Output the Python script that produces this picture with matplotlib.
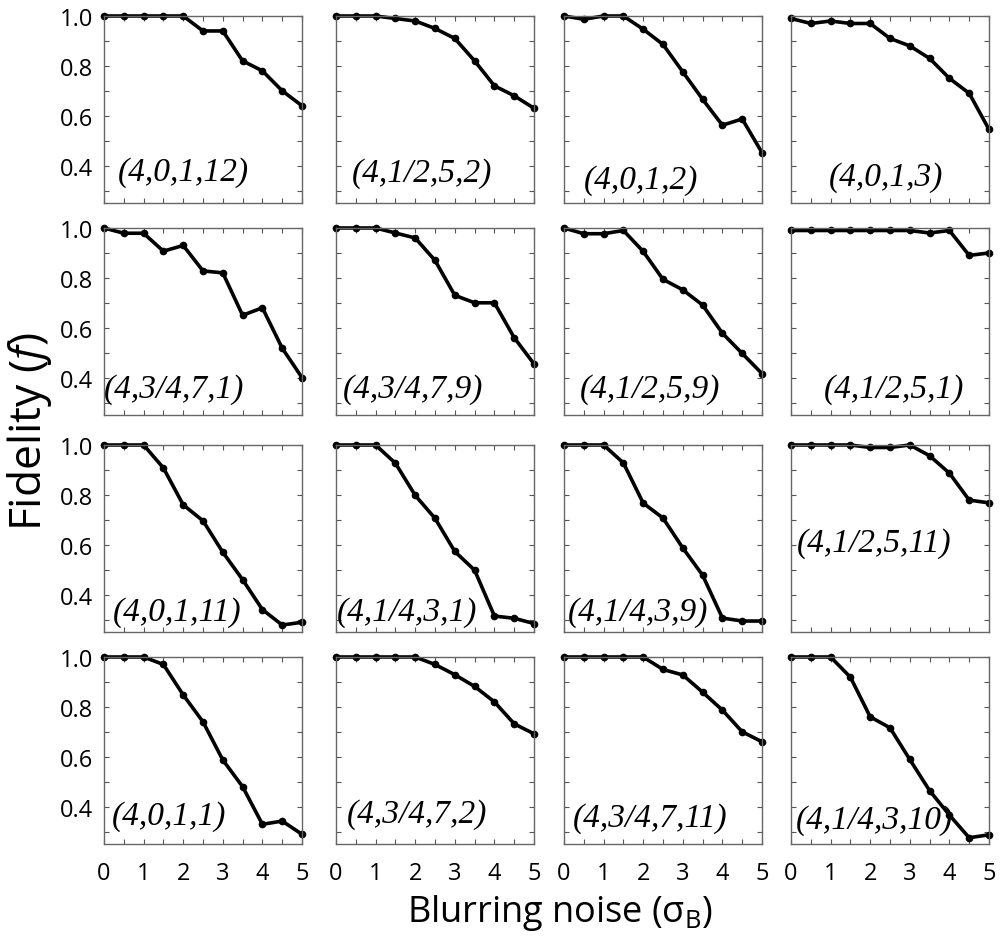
import matplotlib
matplotlib.use('Agg')
from matplotlib import pyplot as plt
from matplotlib.ticker import MultipleLocator

# Blurring noise levels (sigma_B) and fidelity per parameter set.
sigma_b = [0, 0.5, 1, 1.5, 2, 2.5, 3, 3.5, 4, 4.5, 5]

labels = ['(4,0,1,12)', '(4,1/2,5,2)', '(4,0,1,2)', '(4,0,1,3)',
          '(4,3/4,7,1)', '(4,3/4,7,9)', '(4,1/2,5,9)', '(4,1/2,5,1)',
          '(4,0,1,11)', '(4,1/4,3,1)', '(4,1/4,3,9)', '(4,1/2,5,11)',
          '(4,0,1,1)', '(4,3/4,7,2)', '(4,3/4,7,11)', '(4,1/4,3,10)']

f_4_0_1_12 = [1.0, 1.0, 1.0, 1.0, 1.0, 0.94, 0.94, 0.82, 0.78, 0.70, 0.64]
f_4_12_5_2 = [1.0, 1.0, 1.0, 0.99, 0.98, 0.95, 0.91, 0.82, 0.72, 0.68, 0.63]
f_4_0_1_2 = [1.0, 0.987, 1.0, 1.0, 0.947, 0.886, 0.776, 0.666, 0.562, 0.587, 0.452]
f_4_0_1_3 = [0.99, 0.97, 0.98, 0.97, 0.97, 0.91, 0.88, 0.83, 0.75, 0.69, 0.545]
f_4_34_7_1 = [1.0, 0.979, 0.979, 0.907, 0.93, 0.828, 0.82, 0.65, 0.68, 0.518, 0.40]
f_4_34_7_9 = [1.0, 1.0, 1.0, 0.98, 0.96, 0.87, 0.73, 0.70, 0.70, 0.56, 0.455]
f_4_12_5_9 = [1.0, 0.977, 0.977, 0.99, 0.906, 0.794, 0.752, 0.691, 0.578, 0.497, 0.416]
f_4_12_5_1 = [0.99, 0.99, 0.99, 0.99, 0.99, 0.99, 0.99, 0.98, 0.99, 0.89, 0.90]
f_4_0_1_11 = [1.0, 1.0, 1.0, 0.908, 0.76, 0.696, 0.57, 0.46, 0.34, 0.278, 0.289]
f_4_14_3_1 = [1.0, 1.0, 1.0, 0.927, 0.798, 0.706, 0.573, 0.498, 0.314, 0.305, 0.284]
f_4_14_3_9 = [1.0, 1.0, 1.0, 0.928, 0.767, 0.707, 0.587, 0.478, 0.306, 0.294, 0.294]
f_4_12_5_11 = [1.0, 1.0, 1.0, 1.0, 0.99, 0.99, 1.0, 0.957, 0.887, 0.779, 0.768]
f_4_0_1_1 = [1.0, 1.0, 1.0, 0.97, 0.848, 0.74, 0.587, 0.48, 0.329, 0.342, 0.289]
f_4_34_7_2 = [1.0, 1.0, 1.0, 1.0, 1.0, 0.97, 0.929, 0.882, 0.82, 0.732, 0.692]
f_4_34_7_11 = [1.0, 1.0, 1.0, 1.0, 1.0, 0.95, 0.928, 0.859, 0.787, 0.70, 0.66]
f_4_14_3_10 = [1.0, 1.0, 1.0, 0.919, 0.76, 0.716, 0.589, 0.464, 0.366, 0.275, 0.287]

fidelity = [f_4_0_1_12, f_4_12_5_2, f_4_0_1_2, f_4_0_1_3,
            f_4_34_7_1, f_4_34_7_9, f_4_12_5_9, f_4_12_5_1,
            f_4_0_1_11, f_4_14_3_1, f_4_14_3_9, f_4_12_5_11,
            f_4_0_1_1, f_4_34_7_2, f_4_34_7_11, f_4_14_3_10]

# where each panel's tag sits (axes fraction: left x, centre y)
label_pos = [(0.07, 0.167), (0.08, 0.16), (0.10, 0.127), (0.19, 0.14),
             (0.0, 0.14), (0.035, 0.14), (0.08, 0.14), (0.165, 0.14),
             (0.045, 0.107), (0.005, 0.107), (0.02, 0.107), (0.03, 0.48),
             (0.04, 0.15), (0.055, 0.16), (0.045, 0.14), (0.025, 0.13)]

plt.rcParams['font.family'] = ['Open Sans', 'DejaVu Sans']
plt.rcParams['mathtext.fontset'] = 'custom'
plt.rcParams['mathtext.rm'] = 'Open Sans'
plt.rcParams['mathtext.it'] = 'Open Sans:italic'

W, H = 1000, 945
fig = plt.figure(figsize=(W / 100, H / 100), dpi=100)

col_left = [104, 336, 564, 791]
row_top = [17, 229, 446, 658]
ax_w, ax_h = 198, 187

for i in range(16):
    r, c = divmod(i, 4)
    ax = fig.add_axes([col_left[c] / W, 1 - (row_top[r] + ax_h) / H, ax_w / W, ax_h / H])
    ax.plot(sigma_b, fidelity[i], c='black', lw=2.6, marker='o', ms=4.5, clip_on=False)
    ax.set_xlim(0, 5)
    ax.set_ylim(0.25, 1.0)
    ax.xaxis.set_major_locator(MultipleLocator(1))
    ax.xaxis.set_minor_locator(MultipleLocator(0.5))
    ax.yaxis.set_minor_locator(MultipleLocator(0.1))
    ax.set_yticks([0.4, 0.6, 0.8, 1.0])
    if c != 0:
        ax.set_yticklabels([])
    else:
        ax.set_yticklabels(['0.4', '0.6', '0.8', '1.0'])
    if r != 3:
        ax.set_xticklabels([])
    ax.tick_params(which='both', direction='in', top=True, right=True,
                   length=3.5, width=0.8, color='#555555', labelsize=17)
    ax.tick_params(axis='x', pad=12)
    ax.tick_params(axis='y', pad=8)
    for s in ax.spines.values():
        s.set_color('#666666')
        s.set_linewidth(1.0)
    lx, ly = label_pos[i]
    ax.text(lx, ly, labels[i], transform=ax.transAxes, ha='left', va='center',
            family='Liberation Serif', style='italic', fontsize=24)

fig.text(30 / W, 1 - 432 / H, 'Fidelity ($\\it{f}$)', rotation=90, ha='center', va='center', fontsize=32)
fig.text(560 / W, 1 - 913 / H, 'Blurring noise (σ$_\\mathrm{B}$)', ha='center', va='center', fontsize=26)

fig.savefig('out.png', dpi=100)
